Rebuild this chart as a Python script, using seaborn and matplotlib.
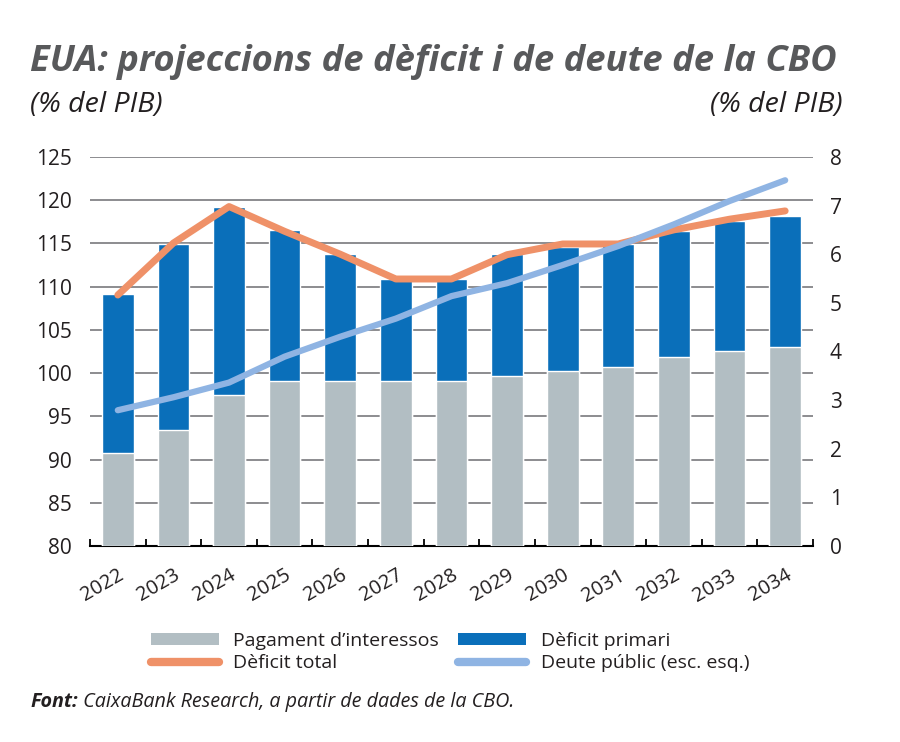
import numpy as np
import pandas as pd
import seaborn as sns
import matplotlib.pyplot as plt
from matplotlib.patches import Patch
from matplotlib.lines import Line2D

# dades (% del PIB)
years = ['2022', '2023', '2024', '2025', '2026', '2027', '2028',
         '2029', '2030', '2031', '2032', '2033', '2034']
interessos = [1.91, 2.39, 3.10, 3.40, 3.40, 3.40, 3.40, 3.50, 3.59, 3.69, 3.89, 4.01, 4.09]
primari = [3.28, 3.82, 3.88, 3.09, 2.60, 2.10, 2.10, 2.50, 2.55, 2.52, 2.58, 2.68, 2.70]
deficit_total = [5.16, 6.23, 6.98, 6.47, 6.00, 5.49, 5.49, 5.99, 6.21, 6.21, 6.50, 6.72, 6.89]
deute = [95.7, 97.2, 98.9, 101.9, 104.2, 106.3, 108.9, 110.4, 112.5, 114.7, 117.2, 119.9, 122.3]

left_ticks = list(range(80, 126, 5))
right_ticks = list(range(0, 9))

c_gris = '#b2bec3'
c_blau = '#0a6fba'
c_taronja = '#ef9168'
c_blau_clar = '#8fb4e3'
c_text = '#231f20'

df = pd.DataFrame({'any': years, 'interessos': interessos, 'primari': primari,
                   'total': deficit_total, 'deute': deute})
df['pos'] = np.arange(len(df))
df['apilat'] = df['interessos'] + df['primari']

sns.set_style('white')
plt.rcParams['font.family'] = ['Open Sans', 'DejaVu Sans']

fig = plt.figure(figsize=(9, 7.42), dpi=100)
ax = fig.add_axes([0.1, 0.2642, 0.8033, 0.5243])
ax2 = ax.twinx()
ax3 = ax.twinx()

# eix esquerre: només la graella i les etiquetes
ax.set_ylim(80, 125)
ax.set_yticks(left_ticks)
ax.yaxis.grid(True, color='#6d6e71', linewidth=1.1)
ax.set_axisbelow(True)

# barres apilades i dèficit total (eix dret)
sns.barplot(data=df, x='any', y='apilat', color=c_blau, saturation=1, width=0.57, ax=ax2)
sns.barplot(data=df, x='any', y='interessos', color=c_gris, saturation=1, width=0.57, ax=ax2)
sns.lineplot(data=df, x='pos', y='total', color=c_taronja, linewidth=5, ax=ax2,
             solid_capstyle='round')
ax2.set_ylim(0, 8)
ax2.set_yticks(right_ticks)

# deute públic (eix esquerre)
sns.lineplot(data=df, x='pos', y='deute', color=c_blau_clar, linewidth=4.5, ax=ax3,
             solid_capstyle='round')
ax3.set_ylim(80, 125)
ax3.set_yticks([])

for a in (ax, ax2, ax3):
    a.set_xlabel('')
    a.set_ylabel('')
    for s in ('top', 'left', 'right', 'bottom'):
        a.spines[s].set_visible(False)
ax.spines['bottom'].set_visible(True)
ax.spines['bottom'].set_color('black')
ax.spines['bottom'].set_linewidth(1.5)

ax.set_xlim(-0.5, len(years) - 0.5)
ax.set_xticks(np.arange(len(years)))
ax.set_xticklabels(years, rotation=30, ha='right', rotation_mode='anchor')
ax.set_xticks(np.arange(-0.5, len(years), 1), minor=True)
ax.tick_params(axis='x', which='major', length=0, pad=14, labelsize=14.5, labelcolor=c_text)
ax.tick_params(axis='x', which='minor', length=5, width=1.3, direction='in', color='black',
               bottom=True)
ax.tick_params(axis='y', length=0, pad=13, labelsize=15, labelcolor=c_text, left=False)
ax2.tick_params(axis='y', length=0, pad=12, labelsize=15, labelcolor=c_text, right=False)

# títols
fig.text(30 / 900, 1 - 62 / 742, 'EUA: projeccions de dèficit i de deute de la CBO',
         fontsize=26.2, fontweight='bold', fontstyle='italic', color='#58595b',
         va='center', ha='left')
fig.text(30 / 900, 1 - 105 / 742, '(% del PIB)', fontsize=20.5, fontstyle='italic',
         color=c_text, va='center', ha='left')
fig.text(843 / 900, 1 - 105 / 742, '(% del PIB)', fontsize=20.5, fontstyle='italic',
         color=c_text, va='center', ha='right')

# llegenda
handles = [Patch(facecolor=c_gris, edgecolor='none'),
           Line2D([], [], color=c_taronja, linewidth=6, solid_capstyle='round'),
           Patch(facecolor=c_blau, edgecolor='none'),
           Line2D([], [], color=c_blau_clar, linewidth=6, solid_capstyle='round')]
labels = ["Pagament d’interessos", 'Dèficit total', 'Dèficit primari',
          'Deute públic (esc. esq.)']
fig.legend(handles, labels, ncol=2, loc='center', bbox_to_anchor=(0.5, 1 - 652 / 742),
           frameon=False, fontsize=14, handlelength=3.5, handleheight=0.55,
           handletextpad=0.75, columnspacing=1.0, labelspacing=0.25,
           labelcolor=c_text)

# font
t1 = fig.text(30 / 900, 1 - 712 / 742, 'Font:', fontsize=14.2, fontweight='bold',
              fontstyle='italic', color=c_text, va='bottom', ha='left')
plt.annotate(' CaixaBank Research, a partir de dades de la CBO.', xy=(1, 0),
             xycoords=t1, fontsize=14.2, fontstyle='italic', color=c_text,
             va='bottom', ha='left')

fig.savefig('out.png', dpi=100)
